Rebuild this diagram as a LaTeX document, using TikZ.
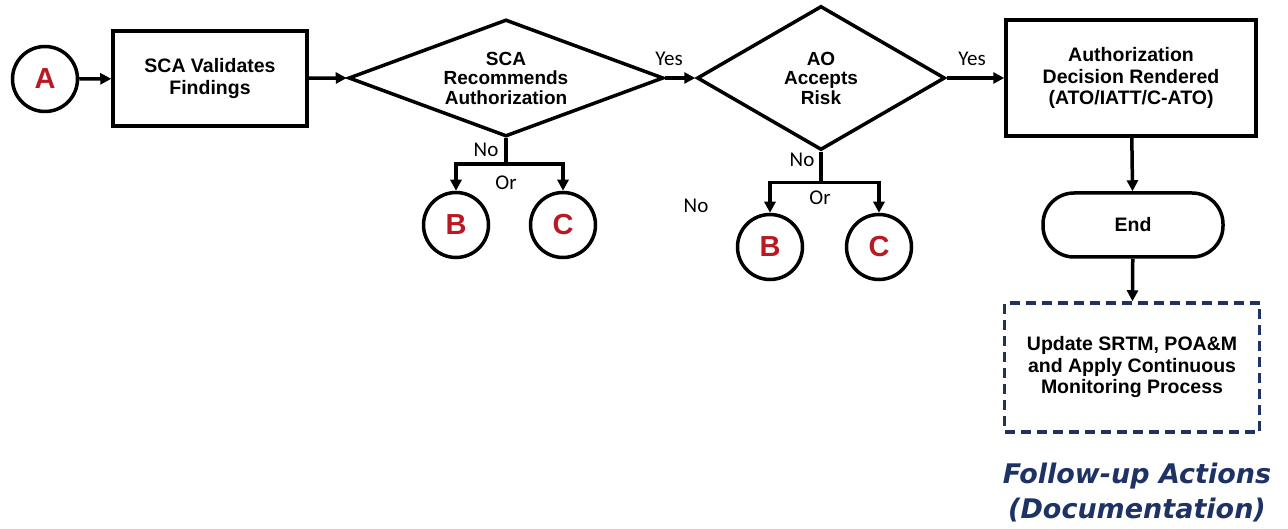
\documentclass[tikz,border=0pt]{standalone}
\usepackage{fontspec}
\setmainfont{Liberation Sans}
\newfontfamily\lblfont{Carlito}
\newfontfamily\follfont{DejaVu Sans}
\usetikzlibrary{shapes.geometric,arrows.meta}
\definecolor{letred}{RGB}{185,25,35}
\definecolor{navy}{RGB}{30,50,100}
\tikzset{
  stepbox/.style={draw, line width=3.5pt, inner sep=0pt, align=center,
    font=\fontsize{19.5}{21.5}\selectfont\bfseries},
  decbox/.style={draw, diamond, line width=3.5pt, inner sep=0pt, align=center,
    font=\fontsize{19}{19.5}\selectfont\bfseries},
  conn/.style={circle, draw, line width=3.5pt, minimum size=65pt, inner sep=0pt,
    font=\fontsize{29}{29}\selectfont\bfseries, text=letred},
  lbl/.style={font=\lblfont\fontsize{21}{21}\selectfont, inner sep=0pt},
  arr/.style={line width=3.5pt, -{Triangle[length=11pt,width=11pt]}},
  plain/.style={line width=3.5pt},
}
\begin{document}
\begin{tikzpicture}[x=1pt,y=-1pt]
\useasboundingbox (0,0) rectangle (1288,529);
% nodes
\node[conn] (A) at (45,79) {A};
\node[stepbox, minimum width=194pt, minimum height=95pt] (v) at (210,78.5) {SCA Validates\\Findings};
\node[decbox, aspect=2.8, minimum width=315pt, minimum height=117pt] (d1) at (506,78) {SCA\\Recommends\\Authorization};
\node[decbox, aspect=1.6, minimum width=248pt, minimum height=144pt] (d2) at (821,78) {AO\\Accepts\\Risk};
\node[stepbox, minimum width=250pt, minimum height=116pt] (auth) at (1131,78) {Authorization\\Decision Rendered\\(ATO/IATT/C-ATO)};
\node[stepbox, rounded corners=31pt, minimum width=180pt, minimum height=64pt] (end) at (1133,225) {End};
\node[stepbox, draw=navy, dash pattern=on 10pt off 6pt, minimum width=255pt, minimum height=129pt] (upd) at (1132,367.5) {Update SRTM, POA\&M\\and Apply Continuous\\Monitoring Process};
\node[align=center, text=navy, inner sep=0pt, font=\follfont\bfseries\itshape\fontsize{27}{35}\selectfont] (fu) at (1137,493) {Follow-up Actions\\(Documentation)};
\node[conn] (b1) at (456,225) {B};
\node[conn] (c1) at (563,225) {C};
\node[conn] (b2) at (770,247) {B};
\node[conn] (c2) at (879,247) {C};
% labels
\node[lbl] (yes1) at (669,59) {Yes};
\node[lbl] (yes2) at (972,59) {Yes};
\node[lbl] (no1) at (486,150) {No};
\node[lbl] (or1) at (506,183) {Or};
\node[lbl] (no2) at (802,160) {No};
\node[lbl] (or2) at (820,198) {Or};
\node[lbl] (no3) at (696,206) {No};
% connectors
\draw[arr] (A) -- (v);
\draw[arr] (v) -- (d1.west);
\draw[arr] (d1.east) -- (d2.west);
\draw[arr] (d2.east) -- (auth.west);
\draw[arr] (auth) -- (end);
\draw[arr] (end) -- (upd);
\draw[plain] (d1.south) -- ++(0,26) coordinate (j1);
\draw[arr] (j1) -| (b1);
\draw[arr] (j1) -| (c1);
\draw[plain] (d2.south) -- ++(0,31) coordinate (j2);
\draw[arr] (j2) -| (b2);
\draw[arr] (j2) -| (c2);
\end{tikzpicture}
\end{document}
